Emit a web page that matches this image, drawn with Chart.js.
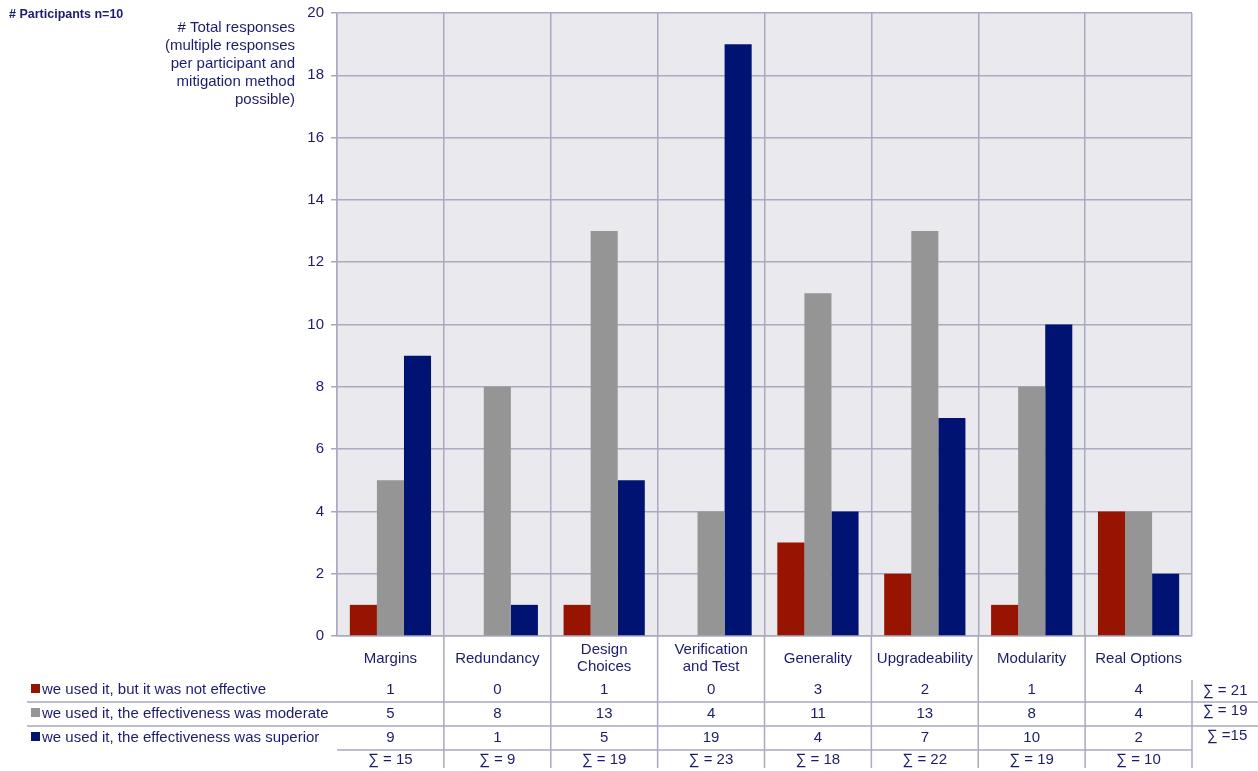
<!DOCTYPE html>
<html>
<head>
<meta charset="utf-8">
<script src="https://cdn.jsdelivr.net/npm/chart.js@4/dist/chart.umd.min.js"></script>
<style>
  html, body { margin: 0; padding: 0; background: #fff; }
</style>
</head>
<body>
<canvas id="chart" width="1258" height="771"></canvas>
<script>
const categories = ["Margins", "Redundancy", ["Design", "Choices"], ["Verification", "and Test"], "Generality", "Upgradeability", "Modularity", "Real Options"];
const notEffective = [1, 0, 1, 0, 3, 2, 1, 4];
const moderate = [5, 8, 13, 4, 11, 13, 8, 4];
const superior = [9, 1, 5, 19, 4, 7, 10, 2];
const seriesNames = [
  "we used it, but it was not effective",
  "we used it, the effectiveness was moderate",
  "we used it, the effectiveness was superior"
];
const seriesColors = ["#961400", "#959595", "#001372"];
const rowTotals = ["∑ = 21", "∑ = 19", "∑ =15"];
const yTicks = [0, 2, 4, 6, 8, 10, 12, 14, 16, 18, 20];
const yTitle = ["# Total responses", "(multiple responses", "per participant and", "mitigation method", "possible)"];

const FONT = "'Liberation Sans', Arial, sans-serif";
const INK = "#1c1c6e";
const GRID = "#a9a9bf";

// plot area background
const plotBg = {
  id: "plotBg",
  beforeDraw(chart) {
    const { ctx, chartArea: a } = chart;
    ctx.save();
    ctx.fillStyle = "#eaeaee";
    ctx.fillRect(a.left, a.top, a.right - a.left, a.bottom - a.top);
    ctx.restore();
  }
};

// titles + data table under the x axis
const dataTable = {
  id: "dataTable",
  afterDraw(chart) {
    const { ctx, chartArea: a } = chart;
    const x = chart.scales.x;
    const rows = [notEffective, moderate, superior];
    const rowY = [690, 714, 738];
    const sumY = 760;
    const half = (x.getPixelForValue(1) - x.getPixelForValue(0)) / 2;

    ctx.save();
    ctx.fillStyle = INK;
    ctx.textBaseline = "middle";

    ctx.font = "bold 12.5px " + FONT;
    ctx.textAlign = "left";
    ctx.fillText("# Participants n=10", 9, 15);

    ctx.font = "15px " + FONT;
    ctx.textAlign = "right";
    yTitle.forEach((t, i) => ctx.fillText(t, 295, 28 + i * 18));

    // table lines
    ctx.strokeStyle = GRID;
    ctx.lineWidth = 1.5;
    ctx.beginPath();
    [702, 726].forEach(y => { ctx.moveTo(27, y); ctx.lineTo(1258, y); });
    ctx.moveTo(a.left, 750); ctx.lineTo(a.right, 750);
    for (let i = 1; i < categories.length; i++) {
      const bx = x.getPixelForValue(i) - half;
      ctx.moveTo(bx, a.bottom); ctx.lineTo(bx, 768);
    }
    ctx.moveTo(a.right, 680); ctx.lineTo(a.right, 768);
    ctx.stroke();

    // legend keys
    ctx.textAlign = "left";
    rows.forEach((r, k) => {
      ctx.fillStyle = seriesColors[k];
      ctx.fillRect(31, rowY[k] - 6, 9, 9);
      ctx.fillStyle = INK;
      ctx.fillText(seriesNames[k], 42, rowY[k]);
    });

    // values and column sums
    ctx.textAlign = "center";
    categories.forEach((c, i) => {
      const cx = x.getPixelForValue(i);
      rows.forEach((r, k) => ctx.fillText(String(r[i]), cx, rowY[k]));
      const s = notEffective[i] + moderate[i] + superior[i];
      ctx.fillText("∑ = " + s, cx, sumY);
    });

    // row sums on the right
    ctx.textAlign = "left";
    [[1203, 691], [1203, 711], [1207, 736]].forEach((p, k) => ctx.fillText(rowTotals[k], p[0], p[1]));
    ctx.restore();
  }
};

new Chart(document.getElementById("chart"), {
  type: "bar",
  data: {
    labels: categories,
    datasets: [
      { label: seriesNames[0], data: notEffective, backgroundColor: seriesColors[0] },
      { label: seriesNames[1], data: moderate, backgroundColor: seriesColors[1] },
      { label: seriesNames[2], data: superior, backgroundColor: seriesColors[2] }
    ]
  },
  options: {
    responsive: false,
    animation: false,
    devicePixelRatio: 1,
    layout: { padding: { top: 13, right: 66, bottom: 0, left: 0 } },
    datasets: { bar: { barPercentage: 1, categoryPercentage: 0.76, borderWidth: 0 } },
    plugins: { legend: { display: false }, tooltip: { enabled: false } },
    scales: {
      x: {
        afterFit: s => { s.height = 135; },
        grid: { offset: true, color: GRID, lineWidth: 1.5, drawTicks: false },
        border: { display: true, color: GRID, width: 1.5 },
        ticks: {
          color: INK, font: { family: FONT, size: 15, lineHeight: 1.15 }, padding: 14,
          crossAlign: "center", maxRotation: 0, autoSkip: false
        }
      },
      y: {
        min: 0, max: 20,
        afterFit: s => { s.width = 337; s.paddingTop = 0; s.paddingBottom = 0; },
        afterBuildTicks: s => { s.ticks = yTicks.map(v => ({ value: v })); },
        grid: { color: GRID, lineWidth: 1.5, tickLength: 6 },
        border: { display: true, color: GRID, width: 1.5 },
        ticks: { color: INK, font: { family: FONT, size: 15 }, padding: 7 }
      }
    }
  },
  plugins: [plotBg, dataTable]
});
</script>
</body>
</html>
